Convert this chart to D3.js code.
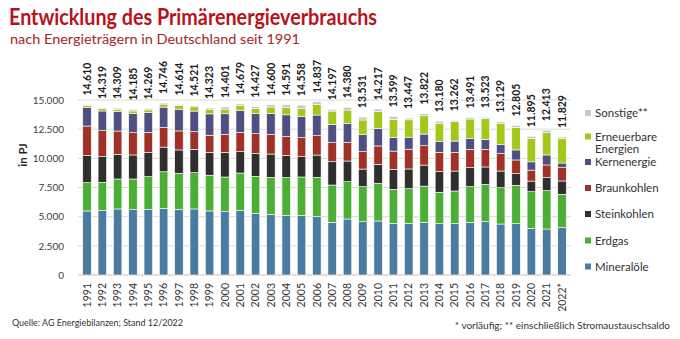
<!DOCTYPE html>
<html>
<head>
<meta charset="utf-8">
<script src="https://cdn.jsdelivr.net/npm/d3@7"></script>
<style>
  body { margin: 0; background: #fff; }
  svg { display: block; font-family: Lato, "Open Sans", sans-serif; }
</style>
</head>
<body>
<script>
// Primärenergieverbrauch in PJ, Jahreswerte 1991-2022
const years = ["1991","1992","1993","1994","1995","1996","1997","1998","1999","2000",
  "2001","2002","2003","2004","2005","2006","2007","2008","2009","2010",
  "2011","2012","2013","2014","2015","2016","2017","2018","2019","2020","2021","2022*"];

const totals = [14610, 14319, 14309, 14185, 14269, 14746, 14614, 14521, 14323, 14401,
  14679, 14427, 14600, 14591, 14558, 14837, 14197, 14380, 13531, 14217,
  13599, 13447, 13822, 13180, 13262, 13491, 13523, 13129, 12805, 11895, 12413, 11829];

const mineraloele = [5490, 5540, 5660, 5600, 5600, 5710, 5630, 5660, 5490, 5430,
  5540, 5290, 5200, 5090, 5090, 5000, 4510, 4800, 4570, 4630,
  4430, 4430, 4510, 4400, 4400, 4510, 4570, 4370, 4400, 4000, 3940, 4060];
const erdgas = [2430, 2400, 2570, 2630, 2830, 3140, 3090, 3110, 3060, 2970,
  3200, 3170, 3170, 3260, 3310, 3370, 3200, 3200, 3000, 3230,
  2910, 2970, 3110, 2690, 2800, 3060, 3200, 3110, 3290, 3140, 3290, 2860];
const steinkohlen = [2310, 2200, 2110, 2060, 2060, 2110, 2000, 2000, 1970, 2110,
  1830, 1940, 2000, 1890, 1740, 1910, 2000, 1770, 1510, 1630,
  1710, 1690, 1800, 1770, 1710, 1630, 1490, 1430, 1000, 910, 1110, 1140];
const braunkohlen = [2540, 2230, 2000, 1910, 1740, 1690, 1630, 1510, 1460, 1540,
  1660, 1710, 1690, 1630, 1630, 1660, 1630, 1600, 1490, 1570,
  1570, 1690, 1660, 1660, 1600, 1570, 1510, 1510, 1170, 940, 1090, 1140];
const kernenergie = [1570, 1690, 1660, 1630, 1690, 1740, 1860, 1770, 1830, 1770,
  1890, 1740, 1800, 1860, 1800, 1770, 1570, 1630, 1490, 1510,
  1170, 1030, 1000, 910, 970, 940, 860, 770, 860, 710, 860, 400];
const erneuerbare = [200, 200, 200, 230, 230, 260, 340, 370, 400, 400,
  430, 430, 540, 630, 710, 910, 1140, 1140, 1230, 1430,
  1540, 1490, 1570, 1570, 1660, 1660, 1770, 1800, 1940, 2000, 1910, 2110];
const sonstige = [70, 59, 109, 125, 119, 96, 64, 101, 113, 181,
  129, 147, 200, 231, 278, 217, 147, 240, 241, 217,
  269, 147, 172, 180, 122, 121, 123, 139, 145, 195, 213, 119];

const yTicks = [0, 2500, 5000, 7500, 10000, 12500, 15000];

// Reihenfolge von unten nach oben
const keys = ["Mineralöle", "Erdgas", "Steinkohlen", "Braunkohlen", "Kernenergie", "Erneuerbare Energien", "Sonstige**"];
const colors = ["#4b7b9f", "#4caf35", "#2f2f2f", "#9f3126", "#4f4f82", "#a4c71c", "#c8c8c8"];

const rows = years.map((yr, i) => ({
  year: yr,
  "Mineralöle": mineraloele[i],
  "Erdgas": erdgas[i],
  "Steinkohlen": steinkohlen[i],
  "Braunkohlen": braunkohlen[i],
  "Kernenergie": kernenergie[i],
  "Erneuerbare Energien": erneuerbare[i],
  "Sonstige**": sonstige[i]
}));

const W = 680, H = 339;
const svg = d3.select("body").append("svg").attr("width", W).attr("height", H);

const de = d3.formatLocale({decimal: ",", thousands: ".", grouping: [3], currency: ["", "€"]});
const fmt = de.format(",.0f");

const x = d3.scaleBand().domain(years).range([78.15, 570.85]).paddingInner(0.445).paddingOuter(0.3);
const y = d3.scaleLinear().domain([0, 15000]).range([275, 100]);
const color = d3.scaleOrdinal().domain(keys).range(colors);

// Titel
svg.append("text")
  .attr("x", 9).attr("y", 25)
  .attr("textLength", 368).attr("lengthAdjust", "spacingAndGlyphs")
  .style("font-size", "22px").style("font-weight", "bold").attr("fill", "#b8121c")
  .text("Entwicklung des Primärenergieverbrauchs");
svg.append("text")
  .attr("x", 10).attr("y", 43.5)
  .attr("textLength", 290).attr("lengthAdjust", "spacingAndGlyphs")
  .style("font-size", "13px").attr("fill", "#a3262a")
  .text("nach Energieträgern in Deutschland seit 1991");

// Gitterlinien
svg.append("g").selectAll("line")
  .data(yTicks)
  .join("line")
  .attr("x1", 78).attr("x2", 571)
  .attr("y1", d => y(d)).attr("y2", d => y(d))
  .attr("stroke", d => d === 0 ? "#bfbfbf" : "#dadada")
  .attr("stroke-width", 1);

// y-Achse
const yAxis = svg.append("g")
  .attr("transform", "translate(72,0)")
  .call(d3.axisLeft(y).tickValues(yTicks).tickFormat(fmt).tickSize(0).tickPadding(8));
yAxis.select(".domain").remove();
yAxis.selectAll("text").style("font-size", "10px").style("font-family", "Lato, sans-serif").attr("fill", "#404040");

svg.append("text")
  .attr("transform", "translate(26.5,155) rotate(-90)")
  .attr("text-anchor", "middle")
  .style("font-size", "11.5px").style("font-weight", "bold").attr("fill", "#262626")
  .text("in PJ");

// gestapelte Säulen
const series = d3.stack().keys(keys)(rows);
svg.append("g").selectAll("g")
  .data(series)
  .join("g")
  .attr("fill", d => color(d.key))
  .selectAll("rect")
  .data(d => d)
  .join("rect")
  .attr("x", d => x(d.data.year))
  .attr("y", d => y(d[1]))
  .attr("width", x.bandwidth())
  .attr("height", d => Math.max(0, y(d[0]) - y(d[1])))
  .attr("stroke", "#fff")
  .attr("stroke-width", 0.6);

// Summen über den Säulen
svg.append("g").selectAll("text")
  .data(totals)
  .join("text")
  .attr("transform", (d, i) => `translate(${x(years[i]) + x.bandwidth() / 2},${y(d) - 9}) rotate(-90)`)
  .attr("dy", "0.35em")
  .style("font-size", "10.5px").style("font-weight", "bold").attr("fill", "#1a1a1a")
  .text(d => fmt(d));

// x-Achse mit senkrechten Jahreszahlen
const xAxis = svg.append("g")
  .attr("transform", "translate(0,275)")
  .call(d3.axisBottom(x).tickSize(0));
xAxis.select(".domain").remove();
xAxis.selectAll("text")
  .attr("transform", "rotate(-90)")
  .attr("x", -8).attr("y", 0).attr("dy", "0.35em")
  .style("text-anchor", "end")
  .style("font-size", "10.5px").style("font-family", "Lato, sans-serif").attr("fill", "#333");

// Legende, oben beginnend
const legendKeys = keys.slice().reverse();
const legendY = [113, 136.5, 162, 188, 214, 240.5, 266.5];
const legend = svg.append("g").selectAll("g")
  .data(legendKeys)
  .join("g")
  .attr("transform", (d, i) => `translate(585,${legendY[i]})`);
legend.append("rect")
  .attr("x", 0).attr("y", -3).attr("width", 6).attr("height", 6)
  .attr("fill", d => color(d));
legend.append("text")
  .style("font-size", "11.5px").attr("fill", "#333")
  .each(function(d) {
    const lines = d === "Erneuerbare Energien" ? ["Erneuerbare", "Energien"] : [d];
    d3.select(this).selectAll("tspan")
      .data(lines)
      .join("tspan")
      .attr("x", 10)
      .attr("y", (l, j) => j * 12)
      .attr("dy", "0.35em")
      .text(l => l);
  });

// Fußzeilen
svg.append("text")
  .attr("x", 12).attr("y", 326)
  .attr("textLength", 171).attr("lengthAdjust", "spacingAndGlyphs")
  .style("font-size", "10px").attr("fill", "#333")
  .text("Quelle: AG Energiebilanzen; Stand 12/2022");
svg.append("text")
  .attr("x", 670).attr("y", 329)
  .attr("text-anchor", "end")
  .style("font-size", "10px").attr("fill", "#333")
  .text("* vorläufig; ** einschließlich Stromaustauschsaldo");
</script>
</body>
</html>
